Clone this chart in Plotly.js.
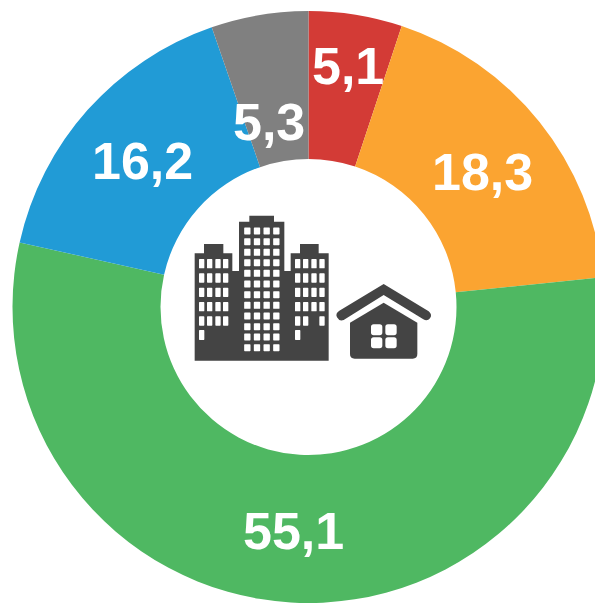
<!DOCTYPE html>
<html>
<head>
<meta charset="utf-8">
<script src="https://cdn.plot.ly/plotly-3.0.1.min.js"></script>
<style>
html,body{margin:0;padding:0;background:#fff;width:595px;height:603px;overflow:hidden}
#chart{width:617px;height:614px}
</style>
</head>
<body>
<div id="chart"></div>
<script>
const categories = ['Red', 'Orange', 'Green', 'Blue', 'Gray'];
const values = [5.1, 18.3, 55.1, 16.2, 5.3];
const colors = ['#D33B36', '#FBA431', '#4FB862', '#219BD6', '#808080'];

const W = 617, H = 614;
const CX = 308.5, CY = 307, R = 296;
const labelAnchors = [[347.5, 65.5], [482.5, 171.5], [293, 531], [142.5, 161], [269, 122]];

const px = x => x / W;
const py = y => 1 - y / H;
// icon drawing helpers: coordinates are given in a 3x crop space
const zx = x => (180 + x / 3) / W;
const zy = y => 1 - (200 + y / 3) / H;
const P = (x, y) => zx(x) + ',' + zy(y);
function poly(pts) {
  return 'M' + pts.map(p => P(p[0], p[1])).join(' L') + ' Z';
}
function rrect(cx, cy, w, h, r) {
  const l = cx - w / 2, t = cy - h / 2, e = cx + w / 2, b = cy + h / 2;
  return 'M' + P(l + r, t) + ' L' + P(e - r, t) + ' Q' + P(e, t) + ' ' + P(e, t + r) +
    ' L' + P(e, b - r) + ' Q' + P(e, b) + ' ' + P(e - r, b) +
    ' L' + P(l + r, b) + ' Q' + P(l, b) + ' ' + P(l, b - r) +
    ' L' + P(l, t + r) + ' Q' + P(l, t) + ' ' + P(l + r, t) + ' Z';
}

const ink = '#444444';
const towers = poly([
  [44, 482], [44, 160], [72, 160], [72, 132], [130, 132], [130, 160], [157, 160], [157, 213], [177, 213],
  [177, 65], [208, 65], [208, 47], [282, 47], [282, 65], [313, 65], [313, 213], [332, 213],
  [332, 160], [360, 160], [360, 132], [416, 132], [416, 160], [446, 160], [446, 482]
]);
const roof = 'M' + P(611, 252) + ' L' + P(746, 334) + ' Q' + P(758, 344) + ' ' + P(750, 355) +
  ' Q' + P(742, 365) + ' ' + P(730, 358) + ' L' + P(611, 285) + ' L' + P(491, 360) +
  ' Q' + P(478, 365) + ' ' + P(471, 352) + ' Q' + P(465, 340) + ' ' + P(478, 332) + ' Z';
const houseBody = 'M' + P(611, 308) + ' L' + P(712, 368) + ' L' + P(712, 462) + ' Q' + P(712, 476) + ' ' + P(698, 476) +
  ' L' + P(524, 476) + ' Q' + P(510, 476) + ' ' + P(510, 462) + ' L' + P(510, 368) + ' Z';

let win = [];
[191, 234, 277, 320, 363].forEach((y, r) => {
  [65, 89, 114, 137].forEach(x => win.push(rrect(x, y, 16, 28, 2)));
  [353, 377, 402, 426].forEach((x, c) => { if (!(r === 4 && c === 2)) win.push(rrect(x, y, 16, 28, 2)); });
});
win.push(rrect(65, 405, 16, 30, 2), rrect(353, 405, 16, 30, 2));
[93, 125, 157, 188, 220, 252, 284, 316, 348, 380, 411, 443].forEach(y => {
  [202, 231, 260, 289].forEach(x => win.push(rrect(x, y, 19, 21, 2)));
});
[[590, 389], [633, 389], [590, 428], [633, 428]].forEach(c => win.push(rrect(c[0], c[1], 34, 33, 8)));

const shapeOf = (path, fill) => ({type: 'path', xref: 'paper', yref: 'paper', path, fillcolor: fill, line: {width: 0}, layer: 'above'});
const shapes = [
  shapeOf(towers, ink), shapeOf(roof, ink), shapeOf(houseBody, ink),
  shapeOf(win.join(' '), '#ffffff')
];

const annotations = values.map((v, i) => ({
  xref: 'paper', yref: 'paper',
  x: px(labelAnchors[i][0]), y: py(labelAnchors[i][1]),
  xanchor: 'center', yanchor: 'middle', showarrow: false,
  text: v.toFixed(1).replace('.', ','),
  font: {family: '"Liberation Sans", Arial, sans-serif', size: 52, color: '#ffffff', weight: 700}
}));

Plotly.newPlot('chart', [{
  type: 'pie',
  labels: categories,
  values: values,
  sort: false,
  direction: 'clockwise',
  rotation: 0,
  hole: 0.5,
  marker: {colors: colors, line: {width: 0}},
  textinfo: 'none',
  hoverinfo: 'label+value',
  domain: {x: [(CX - R) / W, (CX + R) / W], y: [1 - (CY + R) / H, 1 - (CY - R) / H]}
}], {
  width: W, height: H,
  margin: {l: 0, r: 0, t: 0, b: 0, pad: 0},
  showlegend: false,
  paper_bgcolor: '#ffffff',
  annotations, shapes
}, {displayModeBar: false, staticPlot: true});
</script>
</body>
</html>
